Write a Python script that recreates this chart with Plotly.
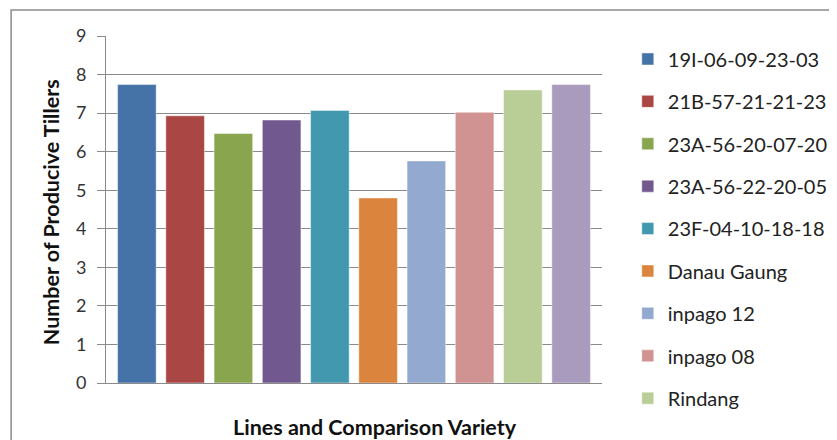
import plotly.graph_objects as go

# Data
varieties = ["19I-06-09-23-03", "21B-57-21-21-23", "23A-56-20-07-20", "23A-56-22-20-05",
             "23F-04-10-18-18", "Danau Gaung", "inpago 12", "inpago 08", "Rindang", "Variety 10"]
tillers = [7.74, 6.93, 6.47, 6.82, 7.07, 4.80, 5.76, 7.02, 7.60, 7.74]
colors = ["#4572A7", "#AA4643", "#89A54E", "#71588F", "#4198AF",
          "#DB843D", "#93A9CF", "#D19392", "#B9CD96", "#A99BBD"]
show_in_legend = [True] * 9 + [False]  # 10th legend entry is cut off in the original
y_ticks = [0, 1, 2, 3, 4, 5, 6, 7, 8, 9]

fig = go.Figure()
for name, val, col, leg in zip(varieties, tillers, colors, show_in_legend):
    fig.add_trace(go.Bar(
        x=[name], y=[val], name=name, width=0.8,
        marker=dict(color=col, line=dict(color="rgba(255,255,255,0.45)", width=1)),
        showlegend=leg, legendgroup=name,
    ))

font_family = "Lato, 'Open Sans', sans-serif"
grid = "#8a8a8a"

# page body has an 8px margin; margins below compensate for it
fig.update_layout(
    width=837, height=440,
    margin=dict(l=98, r=232, t=28, b=65),
    paper_bgcolor="white", plot_bgcolor="white",
    barmode="overlay",
    font=dict(family=font_family, size=17, color="#222"),
    legend=dict(x=1.052, xanchor="left", y=0.99, yanchor="top",
                font=dict(size=20, color="#222"), tracegroupgap=13.4,
                bgcolor="rgba(0,0,0,0)", maxheight=600),
    showlegend=True,
)
fig.update_xaxes(
    type="category", categoryorder="array", categoryarray=varieties,
    range=[-0.64, 9.64], showticklabels=False, showgrid=False,
    showline=True, linecolor=grid, linewidth=1, ticks="",
)
fig.update_yaxes(
    range=[0, 9], tickvals=y_ticks, showgrid=True, gridcolor=grid, gridwidth=1,
    showline=True, linecolor=grid, linewidth=1, ticks="outside", ticklen=8,
    tickcolor=grid, tickfont=dict(size=18, color="#333"), ticklabelstandoff=7,
    zeroline=False,
)
# chart border
fig.add_shape(type="rect", xref="paper", yref="paper",
              x0=(9 - 106) / 507, x1=1.6, y0=-0.4, y1=(383 - 10) / 347,
              line=dict(color="#8c8c8c", width=1.5), layer="below")
fig.add_annotation(text="<b>Number of Producive Tillers</b>", textangle=-90,
                   xref="paper", yref="paper", x=(50 - 106) / 507, y=0.493,
                   xanchor="center", yanchor="middle", showarrow=False,
                   font=dict(size=21.5, color="#111"))
fig.add_annotation(text="<b>Lines and Comparison Variety</b>",
                   xref="paper", yref="paper", x=(381 - 106) / 507, y=(383 - 427) / 347,
                   xanchor="center", yanchor="middle", showarrow=False,
                   font=dict(size=21.5, color="#111"))

fig.write_html("out.html")
